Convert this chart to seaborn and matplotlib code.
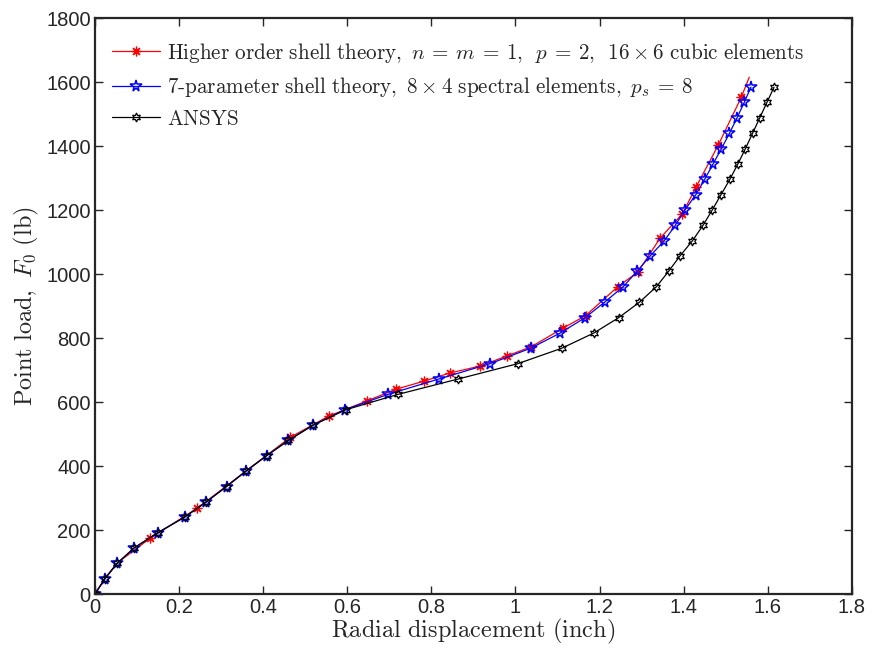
import numpy as np
import pandas as pd
import seaborn as sns
import matplotlib
matplotlib.use("Agg")
import matplotlib.pyplot as plt
from matplotlib.ticker import FuncFormatter, MultipleLocator

# Higher order shell theory (16 x 6 cubic elements)
hos_disp = [0.0, 0.024, 0.053, 0.131, 0.243, 0.465, 0.556, 0.648, 0.716, 0.782,
            0.845, 0.915, 0.980, 1.038, 1.112, 1.167, 1.243, 1.291, 1.344, 1.397,
            1.430, 1.482, 1.537, 1.556]
hos_load = [0, 50, 97, 174, 268, 490, 556, 604, 640, 665,
            691, 712, 744, 773, 830, 870, 960, 1006, 1112, 1188,
            1273, 1402, 1552, 1615]
hos_marked = [0] + list(range(3, 23))

# Load steps shared by the 7-parameter model and ANSYS
load_steps = [0, 48, 96, 144, 192, 240, 288, 336, 384, 432, 480, 528, 576, 624,
              672, 720, 768, 816, 864, 912, 960, 1008, 1056, 1104, 1152, 1200,
              1248, 1296, 1344, 1392, 1440, 1488, 1536, 1584]

# 7-parameter shell theory (8 x 4 spectral elements)
p7_disp = [0.0, 0.024, 0.053, 0.093, 0.150, 0.213, 0.265, 0.313, 0.359, 0.408,
           0.460, 0.519, 0.594, 0.697, 0.818, 0.940, 1.036, 1.107, 1.166, 1.212,
           1.256, 1.289, 1.320, 1.354, 1.380, 1.403, 1.429, 1.450, 1.470, 1.490,
           1.509, 1.527, 1.544, 1.560]

# ANSYS reference solution
ansys_disp = [0.0, 0.024, 0.053, 0.093, 0.150, 0.213, 0.265, 0.313, 0.359, 0.408,
              0.460, 0.519, 0.597, 0.721, 0.864, 1.006, 1.110, 1.187, 1.246, 1.295,
              1.335, 1.364, 1.391, 1.421, 1.446, 1.468, 1.489, 1.510, 1.529, 1.547,
              1.564, 1.581, 1.598, 1.615]

labels = [
    r"$\mathrm{Higher\ order\ shell\ theory,}\ n\:=\:m\:=\:1,\ \,p\:=\:2,\ \,16\times6\ \mathrm{cubic\ elements}$",
    r"$\mathrm{7\text{-}parameter\ shell\ theory,}\ 8\times4\ \mathrm{spectral\ elements,}\ p_s\:=\:8$",
    r"$\mathrm{ANSYS}$",
]

sns.set_style("ticks")
plt.rcParams["font.family"] = ["Liberation Sans", "DejaVu Sans"]
plt.rcParams["mathtext.fontset"] = "cm"
plt.rcParams["xtick.direction"] = "in"
plt.rcParams["ytick.direction"] = "in"
plt.rcParams["xtick.top"] = True
plt.rcParams["ytick.right"] = True

fig = plt.figure(figsize=(8.71, 6.48), dpi=100)
ax = fig.add_axes([0.109, 0.0833, 0.869, 0.8889])

df_hos = pd.DataFrame({"x": hos_disp, "y": hos_load})
df_p7 = pd.DataFrame({"x": p7_disp, "y": load_steps})
df_an = pd.DataFrame({"x": ansys_disp, "y": load_steps})

sns.lineplot(data=df_hos, x="x", y="y", ax=ax, sort=False, estimator=None,
             color="red", lw=0.9, marker=(8, 2, 0), markersize=7,
             markeredgecolor="red", markeredgewidth=0.9,
             markevery=hos_marked, label=labels[0])
sns.lineplot(data=df_p7, x="x", y="y", ax=ax, sort=False, estimator=None,
             color="blue", lw=0.9, marker="*", markersize=8.5,
             markerfacecolor="none", markeredgecolor="blue",
             markeredgewidth=1.1, label=labels[1])
sns.lineplot(data=df_an, x="x", y="y", ax=ax, sort=False, estimator=None,
             color="black", lw=0.9, marker=(6, 1, 0), markersize=6.5,
             markerfacecolor="none", markeredgecolor="black",
             markeredgewidth=0.9, label=labels[2])

ax.set_xlim(0, 1.8)
ax.set_ylim(0, 1800)
ax.xaxis.set_major_locator(MultipleLocator(0.2))
ax.yaxis.set_major_locator(MultipleLocator(200))
ax.xaxis.set_major_formatter(FuncFormatter(lambda v, p: f"{v:g}"))
ax.yaxis.set_major_formatter(FuncFormatter(lambda v, p: f"{v:g}"))
ax.tick_params(axis="both", labelsize=14.5, length=6, width=1.0, pad=3)

for s in ax.spines.values():
    s.set_linewidth(1.6)
    s.set_visible(True)

ax.set_xlabel(r"$\mathrm{Radial\ displacement\ (inch)}$", fontsize=17.5, labelpad=0)
ax.set_ylabel(r"$\mathrm{Point\ load,}\ F_0\ \mathrm{(lb)}$", fontsize=17.5, labelpad=4)

ax.legend(loc="upper left", frameon=False, fontsize=15.2, handlelength=2.3,
          handletextpad=0.3, labelspacing=0.5, borderaxespad=0.4,
          bbox_to_anchor=(0.0, 0.99))

fig.savefig("out.png", dpi=100)
